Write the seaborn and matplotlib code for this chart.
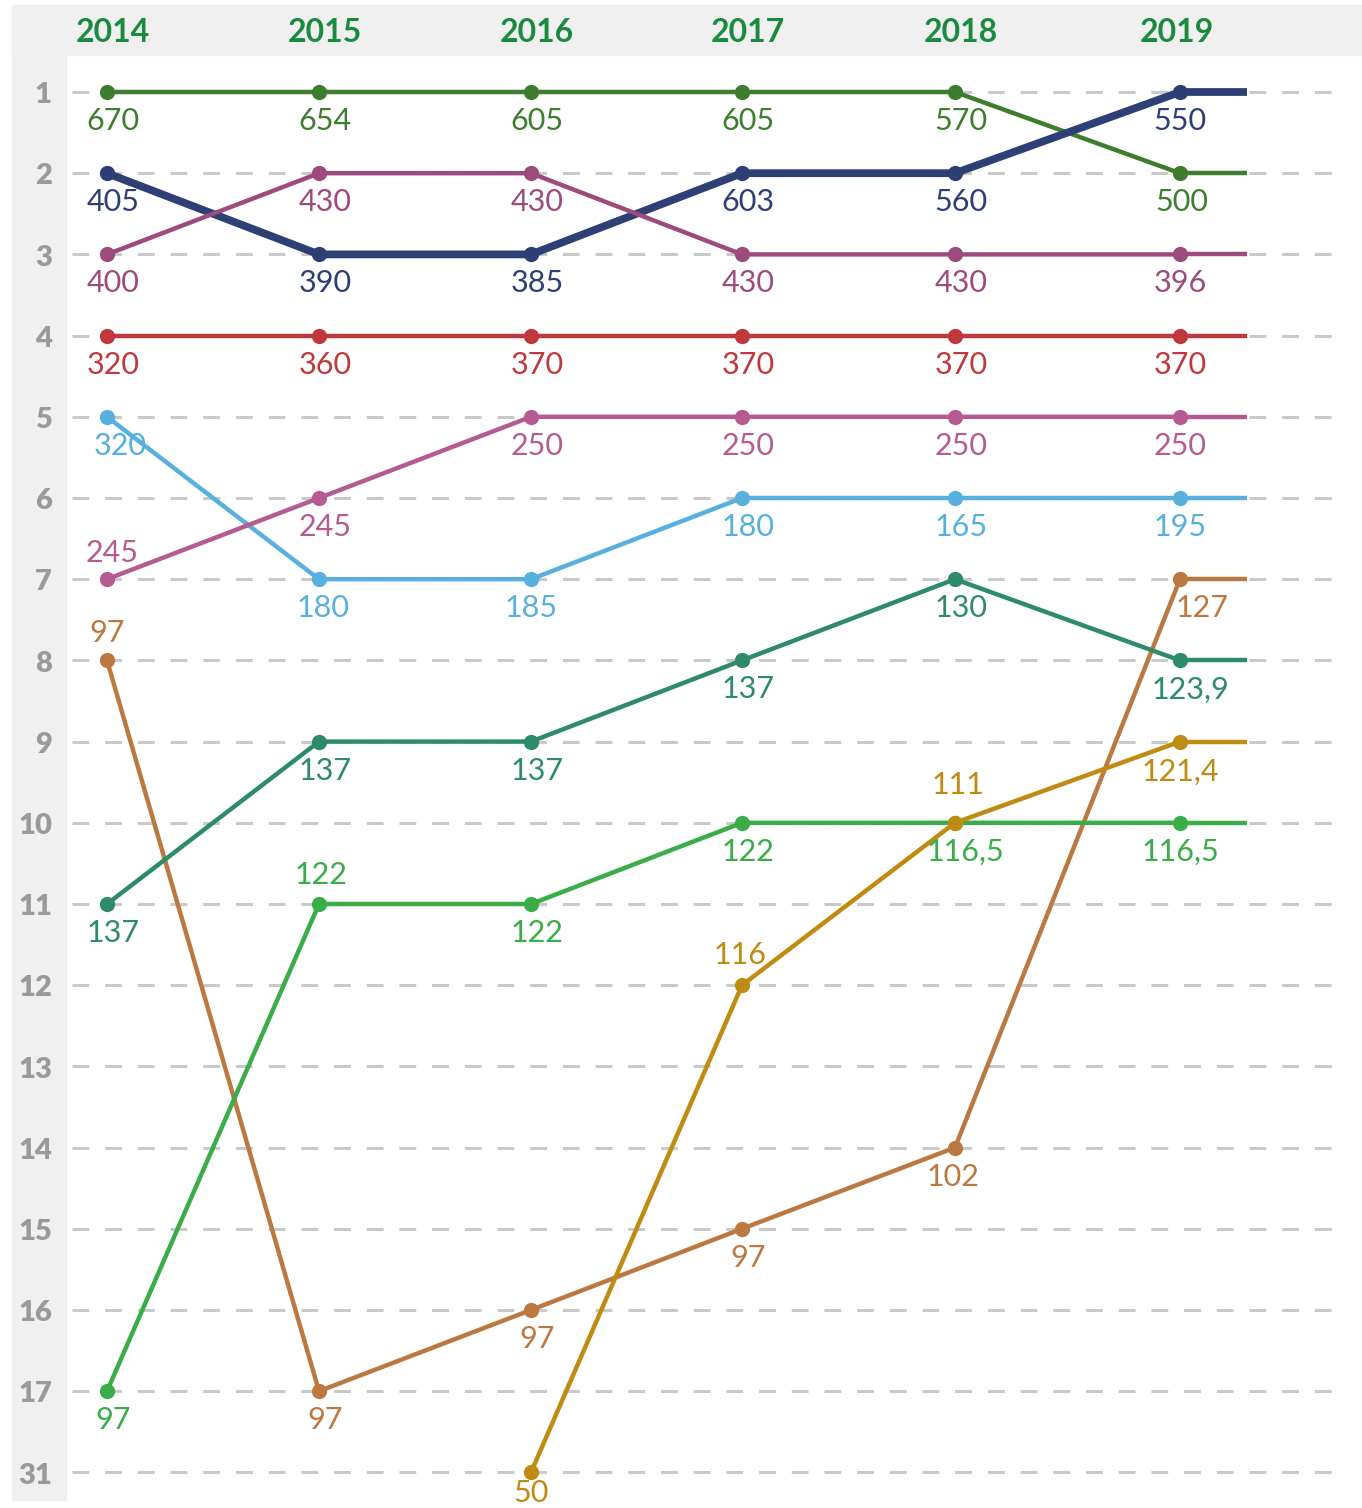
import numpy as np
import pandas as pd
import matplotlib
matplotlib.use("Agg")
import matplotlib.pyplot as plt
import seaborn as sns
from matplotlib.patches import Rectangle

# Data
years = ["2014", "2015", "2016", "2017", "2018", "2019"]
rank_labels = ["1", "2", "3", "4", "5", "6", "7", "8", "9", "10",
               "11", "12", "13", "14", "15", "16", "17", "31"]

s1_rank = [1, 1, 1, 1, 1, 2]
s1_val = [670, 654, 605, 605, 570, 500]
s2_rank = [2, 3, 3, 2, 2, 1]
s2_val = [405, 390, 385, 603, 560, 550]
s3_rank = [3, 2, 2, 3, 3, 3]
s3_val = [400, 430, 430, 430, 430, 396]
s4_rank = [4, 4, 4, 4, 4, 4]
s4_val = [320, 360, 370, 370, 370, 370]
s5_rank = [5, 7, 7, 6, 6, 6]
s5_val = [320, 180, 185, 180, 165, 195]
s6_rank = [7, 6, 5, 5, 5, 5]
s6_val = [245, 245, 250, 250, 250, 250]
s7_rank = [8, 17, 16, 15, 14, 7]
s7_val = [97, 97, 97, 97, 102, 127]
s8_rank = [11, 9, 9, 8, 7, 8]
s8_val = [137, 137, 137, 137, 130, 123.9]
s9_rank = [17, 11, 11, 10, 10, 10]
s9_val = [97, 122, 122, 122, 116.5, 116.5]
s10_rank = [None, None, 18, 12, 10, 9]   # 18 = rank 31 row
s10_val = [None, None, 50, 116, 111, 121.4]

series = [
    ("s1", s1_rank, s1_val, "#3e7d2e", 3.2),
    ("s2", s2_rank, s2_val, "#2d3f74", 5.6),
    ("s3", s3_rank, s3_val, "#9c4b7c", 3.2),
    ("s4", s4_rank, s4_val, "#c0383c", 3.2),
    ("s5", s5_rank, s5_val, "#57b0dd", 3.2),
    ("s6", s6_rank, s6_val, "#b55b91", 3.2),
    ("s7", s7_rank, s7_val, "#bb7941", 3.2),
    ("s8", s8_rank, s8_val, "#2e8b69", 3.2),
    ("s9", s9_rank, s9_val, "#3aac48", 3.2),
    ("s10", s10_rank, s10_val, "#c08b12", 3.2),
]

# layout: column positions in pixels
col_px = [107, 319, 531, 742, 955, 1180]
row0, row_step = 92, 81.2
line_end = 1247

# label offsets in pixels (default: just below the dot)
default_off = (6, -29)
label_off = {
    ("s6", 0): (5, 26), ("s7", 0): (0, 27), ("s9", 1): (2, 29),
    ("s10", 3): (-2, 30), ("s10", 4): (3, 38), ("s5", 0): (13, -29),
    ("s7", 5): (22, -29), ("s8", 5): (10, -29), ("s10", 5): (0, -30),
    ("s9", 5): (0, -29), ("s9", 4): (10, -29), ("s10", 2): (0, -21),
    ("s7", 4): (-2, -29), ("s1", 5): (2, -29), ("s2", 5): (0, -29),
    ("s3", 5): (0, -29), ("s4", 5): (0, -29), ("s6", 5): (0, -29),
    ("s5", 5): (0, -29), ("s5", 1): (4, -29), ("s5", 2): (0, -29),
}

W, H = 1362, 1508
fig = plt.figure(figsize=(W / 100, H / 100), dpi=100)
sns.set_style("white")
plt.rcParams['font.family'] = ['Lato', 'DejaVu Sans']

ax = fig.add_axes([0, 0, 1, 1])
ax.patch.set_visible(False)


def ry(pix):
    return 1 + (pix - row0) / row_step


# gray header bands
band = "#f0f0f0"
fig.add_artist(Rectangle((12 / W, 1 - 55 / H), 1 - 12 / W, 50 / H,
                         transform=fig.transFigure, color=band, zorder=-1))
fig.add_artist(Rectangle((12 / W, 1 - 1500 / H), 54 / W, 1495 / H,
                         transform=fig.transFigure, color=band, zorder=-1))

# dashed gridlines
for r in range(1, len(rank_labels) + 1):
    ax.plot([72, 1345], [r, r], color="#c9c9c9", lw=2.2,
            linestyle=(0, (5.5, 5.2)), zorder=1, solid_capstyle="butt")

# rank labels and year labels
for r, lab in enumerate(rank_labels, start=1):
    ax.text(52, r + 0.04, lab, ha="right", va="center", fontsize=21,
            fontweight="heavy", color="#9a9a9a")
for i, y in enumerate(years):
    ax.text(col_px[i] + 6 - (9 if i == 5 else 0), ry(32), y, ha="center",
            va="center", fontsize=23, fontweight="bold", color="#1a8a3e")

for name, ranks, vals, color, lw in series:
    df = pd.DataFrame({"year": years, "rank": ranks, "val": vals}).dropna()
    df["x"] = [col_px[years.index(y)] for y in df["year"]]
    sns.lineplot(data=df, x="x", y="rank", ax=ax, color=color, lw=lw,
                 marker="o", markersize=11, markeredgewidth=0, zorder=3,
                 estimator=None, sort=False)
    last = df.iloc[-1]
    ax.plot([last["x"], line_end], [last["rank"], last["rank"]],
            color=color, lw=lw, zorder=3, solid_capstyle="butt")
    for _, row in df.iterrows():
        i = years.index(row["year"])
        v = row["val"]
        txt = f"{v:g}".replace(".", ",")
        dx, dy = label_off.get((name, i), default_off)
        ax.annotate(txt, (row["x"], row["rank"]), xytext=(dx, dy),
                    textcoords="offset pixels", ha="center", va="center",
                    fontsize=22, color=color, zorder=4)

if ax.get_legend():
    ax.get_legend().remove()
ax.set_xlim(0, W)
ax.set_ylim(ry(H), ry(0))
ax.axis("off")

fig.savefig("out.png", dpi=100)
